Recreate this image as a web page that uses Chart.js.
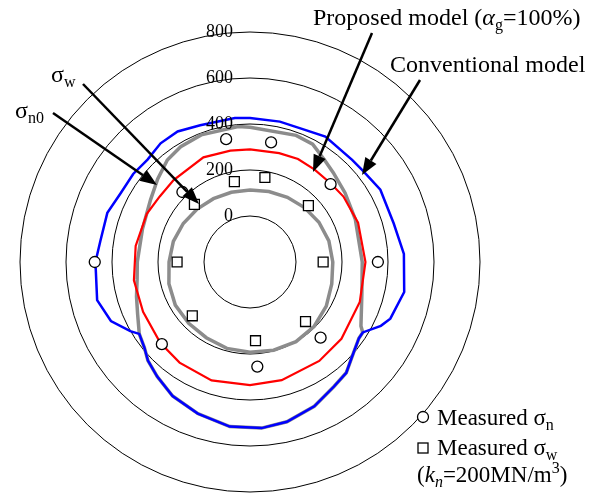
<!DOCTYPE html>
<html>
<head>
<meta charset="utf-8">
<script src="https://cdn.jsdelivr.net/npm/chart.js@4.4.0/dist/chart.umd.min.js"></script>
<style>
  body { margin: 0; background: #fff; }
  #wrap { position: relative; width: 592px; height: 502px; font-family: "Liberation Serif", "Times New Roman", serif; color: #000; }
  #polarChart { position: absolute; left: 0; top: 0; }
  .lbl { position: absolute; font-size: 24px; line-height: 24px; white-space: nowrap; }
  .lbl sub, .lbl sup { font-size: 16px; line-height: 0; }
  .lbl sub { vertical-align: -5px; }
  .lbl sup { vertical-align: 9px; }
  .leg { font-size: 23px; line-height: 23px; }
</style>
</head>
<body>
<div id="wrap">
  <canvas id="polarChart" width="592" height="502"></canvas>
  <div class="lbl" style="left:313px;top:5px">Proposed model (<i>α</i><sub>g</sub>=100%)</div>
  <div class="lbl" style="left:390px;top:52px">Conventional model</div>
  <div class="lbl" style="left:51px;top:62px">σ<sub>w</sub></div>
  <div class="lbl" style="left:15px;top:98px">σ<sub>n0</sub></div>
  <div class="lbl leg" style="left:437px;top:406px">Measured σ<sub>n</sub></div>
  <div class="lbl leg" style="left:437px;top:436px">Measured σ<sub>w</sub></div>
  <div class="lbl leg" style="left:417px;top:463px">(<i>k<sub>n</sub></i>=200MN/m<sup>3</sup>)</div>
</div>
<script>
// one label per degree, clockwise from the top
const degrees = Array.from({ length: 360 }, (_, i) => i);

// Conventional model (blue)
const convAngles = [0, 12, 21, 31, 45, 51, 61, 75, 87, 101, 112, 116, 122, 125, 133, 139, 146, 156, 167, 176,
  187, 199, 210, 219, 226, 231, 237, 240, 247, 256, 270, 278, 289, 298, 307, 315, 323, 331, 340, 354];
const convValues = [426, 424, 421, 436, 428, 431, 448, 447, 470, 483, 458, 433, 378, 378, 406, 438, 453, 487, 513, 524,
  521, 497, 473, 441, 417, 391, 374, 401, 457, 485, 472, 457, 456, 437, 436, 430, 446, 449, 433, 429];

// Proposed model, alpha_g = 100% (red)
const propAngles = [0, 15, 25, 35, 46, 55, 70, 90, 110, 130, 145, 165, 180, 198, 215, 228, 245, 261, 278, 295, 306, 317, 336, 350];
const propValues = [290, 290, 294, 290, 290, 296, 300, 302, 308, 319, 325, 332, 335, 341, 334, 325, 313, 311, 302, 295, 285, 287, 298, 292];

// sigma_n0 (grey, outer)
const sn0Angles = [0, 20, 28, 36, 43, 54, 68, 90, 106, 120, 122, 125, 133, 139, 146, 156, 167, 176, 187, 199,
  210, 219, 226, 231, 237, 245, 253, 261, 270, 287, 302, 312, 321, 329, 339, 355];
const sn0Values = [386, 386, 380, 350, 331, 311, 294, 288, 306, 357, 378, 378, 406, 438, 453, 487, 513, 524, 521, 497,
  473, 441, 417, 391, 374, 339, 316, 297, 290, 289, 310, 340, 371, 385, 392, 391];

// sigma_w (grey, inner)
const swAngles = [0, 15, 30, 45, 60, 75, 90, 105, 120, 135, 150, 165, 180, 195, 210, 225, 240, 255, 270, 285, 300, 315, 330, 345];
const swValues = [113, 117, 125, 135, 146, 155, 160, 168, 183, 195, 200, 197, 192, 189, 180, 177, 175, 165, 152, 145, 135, 125, 118, 114];

// measurements
const measAngles = [349, 10, 46, 90, 137, 176, 227, 270, 316];
const measSigmaN = [344, 328, 287, 356, 250, 256, 324, 475, 223];
const measSigmaW = [156, 173, 153, 118, 154, 143, 143, 117, 148];

const radialTicks = [0, 200, 400, 600, 800];

function onDegrees(angles, values) {
  const out = new Array(360).fill(null);
  angles.forEach((deg, i) => { out[deg] = values[i]; });
  return out;
}

function curve(label, angles, values, color, width, order) {
  return {
    label: label,
    data: onDegrees(angles, values),
    borderColor: color,
    borderWidth: width,
    pointRadius: 0,
    fill: false,
    spanGaps: true,
    order: order,
  };
}

function marks(label, values, style, radius) {
  return {
    label: label,
    data: onDegrees(measAngles, values),
    showLine: false,
    pointStyle: style,
    pointRadius: radius,
    pointBorderWidth: 1.3,
    pointBorderColor: "#000",
    pointBackgroundColor: "#fff",
    order: 0,
  };
}

// arrows and legend symbols
const annotations = {
  id: "annotations",
  afterDraw(chart) {
    const c = chart.ctx;
    const r = chart.scales.r;
    c.save();
    c.fillStyle = "#000";
    c.font = '18px "Liberation Serif"';
    c.textAlign = "right";
    c.textBaseline = "middle";
    r.ticks.forEach((t) => {
      if (!radialTicks.includes(t.value)) return;
      c.fillText(String(t.value), r.xCenter - 17, r.yCenter - r.getDistanceFromCenterForValue(t.value));
    });

    const arrows = [
      [372, 33, 313, 172],
      [420, 80, 362, 175],
      [83, 84, 199, 204],
      [53, 113, 157, 185],
    ];
    c.strokeStyle = "#000";
    c.lineWidth = 2.5;
    arrows.forEach(([x1, y1, x2, y2]) => {
      const a = Math.atan2(y2 - y1, x2 - x1);
      const len = 17, half = 6.5;
      const bx = x2 - len * Math.cos(a), by = y2 - len * Math.sin(a);
      c.beginPath();
      c.moveTo(x1, y1);
      c.lineTo(bx, by);
      c.stroke();
      c.beginPath();
      c.moveTo(x2, y2);
      c.lineTo(bx + half * Math.sin(a), by - half * Math.cos(a));
      c.lineTo(bx - half * Math.sin(a), by + half * Math.cos(a));
      c.closePath();
      c.fill();
    });

    c.lineWidth = 1.3;
    c.fillStyle = "#fff";
    c.beginPath();
    c.arc(423, 417, 5.5, 0, Math.PI * 2);
    c.fill();
    c.stroke();
    c.fillRect(418, 443, 10, 10);
    c.strokeRect(418, 443, 10, 10);
    c.restore();
  },
};

const ctx = document.getElementById("polarChart").getContext("2d");
new Chart(ctx, {
  type: "radar",
  data: {
    labels: degrees,
    datasets: [
      marks("Measured σn", measSigmaN, "circle", 5.5),
      marks("Measured σw", measSigmaW, "rect", 7),
      curve("Conventional model", convAngles, convValues, "#0000ff", 2.5, 2),
      curve("Proposed model", propAngles, propValues, "#ff0000", 2.2, 3),
      curve("σn0", sn0Angles, sn0Values, "#8c8c8c", 3.5, 4),
      curve("σw", swAngles, swValues, "#8c8c8c", 3.5, 5),
    ],
  },
  options: {
    responsive: false,
    animation: false,
    events: [],
    layout: { padding: { left: 20, right: 112, top: 32, bottom: 10 } },
    elements: { line: { tension: 0 } },
    plugins: {
      legend: { display: false },
      tooltip: { enabled: false },
    },
    scales: {
      r: {
        min: -200,
        max: 800,
        ticks: { stepSize: 200, display: false },
        grid: { circular: true, color: "#000", lineWidth: 1 },
        angleLines: { display: false },
        pointLabels: { display: false },
      },
    },
  },
  plugins: [annotations],
});
</script>
</body>
</html>
